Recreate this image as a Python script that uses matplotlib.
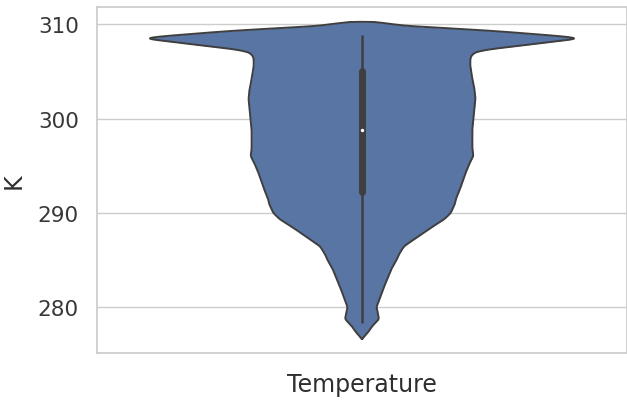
import numpy as np
import matplotlib
matplotlib.use("Agg")
import matplotlib.pyplot as plt
import seaborn as sns

# Violin outline: temperature levels (K) and relative density (1 = widest)
temp_levels = [310.26, 310.24, 310.19, 309.85, 309.68, 309.32, 308.79, 308.52,
               307.91, 307.73, 307.38, 307.07, 306.67, 306.32, 305.58, 304.21,
               303.15, 302.09, 301.03, 299.97, 298.91, 297.85, 296.79, 296.05,
               295.20, 294.14, 292.55, 291.49, 290.96, 290.01, 289.37, 288.32,
               287.26, 286.51, 286.20, 285.46, 285.14, 284.08, 281.96, 280.58,
               280.05, 279.31, 278.78, 278.04, 277.40, 276.66]
density_px = [0, 12, 22, 37, 66, 125, 187, 214,
              166, 154, 125, 110, 106, 105, 105, 107,
              109, 110, 109, 108, 107, 107, 107, 108,
              104, 100, 95, 91, 90, 86, 80, 65,
              51, 41, 39, 35, 34, 28.5, 20.5, 16,
              14, 15.5, 16.5, 10, 6, 0]
rel_density = [v / 214 for v in density_px]

# Box summary
whisker_low, q1, median, q3, whisker_high = 278.4, 292.2, 298.8, 305.1, 308.9

category = "Temperature"
unit = "K"
yticks = [280, 290, 300, 310]

sns.set_theme(style="whitegrid")
fill = sns.desaturate("#4C72B0", 0.75)
edge = "#3f3f3f"


def smooth_profile(levels, dens, step=0.02, sigma=0.12):
    """Resample the outline on a fine grid and soften the corners slightly."""
    lv = np.asarray(levels)[::-1]
    dv = np.asarray(dens)[::-1]
    grid = np.arange(lv[0], lv[-1] + step / 2, step)
    d = np.interp(grid, lv, dv)
    k = np.arange(-4 * sigma, 4 * sigma + step / 2, step)
    kern = np.exp(-0.5 * (k / sigma) ** 2)
    kern /= kern.sum()
    pad = len(k) // 2
    dp = np.pad(d, pad, mode="constant")
    ds = np.convolve(dp, kern, mode="valid")
    ds = ds * (d.max() / ds.max())
    ds[0] = ds[-1] = 0
    return grid, ds


fig = plt.figure(figsize=(6.27, 4.02), dpi=100)
ax = fig.add_axes([97 / 627, 48 / 402, 530 / 627, 346 / 402])

y, d = smooth_profile(temp_levels, rel_density)
half = 0.4 * d
ax.fill_betweenx(y, -half, half, color=fill, linewidth=0, zorder=2)
ox = np.concatenate([half, -half[::-1], half[:1]])
oy = np.concatenate([y, y[::-1], y[:1]])
ax.plot(ox, oy, color=edge, linewidth=1.4, zorder=3, solid_joinstyle="round")

ax.plot([0, 0], [whisker_low, whisker_high], color=edge, linewidth=1.8,
        zorder=4, solid_capstyle="butt")
ax.plot([0, 0], [q1, q3], color=edge, linewidth=5.0, zorder=5,
        solid_capstyle="round")
ax.scatter([0], [median], s=6, color="white", zorder=6, linewidths=0)

ax.set_xlim(-0.5, 0.5)
ax.set_ylim(275.18, 311.83)
ax.set_yticks(yticks)
ax.set_xticks([])
ax.grid(axis="x", visible=False)
ax.set_axisbelow(True)
ax.tick_params(axis="y", labelsize=15.5, pad=13, length=0, colors="#383838")
ax.set_ylabel(unit, fontsize=17, color="#2e2e2e", labelpad=9)
ax.set_xlabel(category, fontsize=17, color="#2e2e2e", labelpad=14)
for s in ax.spines.values():
    s.set_color("#cccccc")
    s.set_linewidth(1.25)

fig.savefig("out.png", dpi=100)
